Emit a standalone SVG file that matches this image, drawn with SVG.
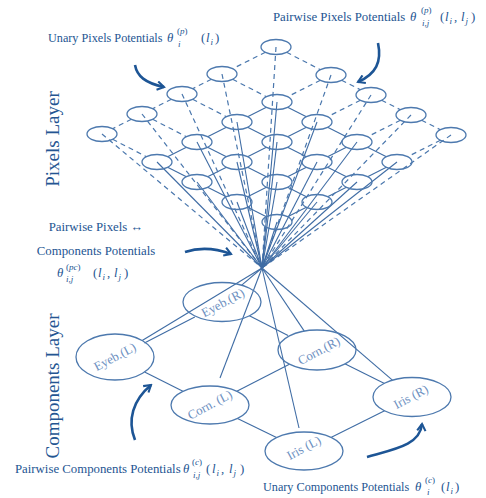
<svg xmlns="http://www.w3.org/2000/svg" width="486" height="498" viewBox="0 0 486 498">
<style>
.px{fill:none;stroke:#4d79ae;stroke-width:1.3}
.cp{fill:none;stroke:#4d79ae;stroke-width:1.3}
.e{stroke:#3f6ca4;stroke-width:1.1;fill:none}
.d{stroke:#4a77ad;stroke-width:1.2;stroke-dasharray:5 4;fill:none}
.ar{stroke:#1d5595;stroke-width:2.6;fill:none;marker-end:url(#ah)}
.t{font-family:"Liberation Serif","DejaVu Serif",serif;fill:#245592;font-size:12.8px}
.u{font-size:12.2px}
.m{font-style:italic}
.s{font-size:9px}
.v{font-size:19px;text-anchor:middle}
.cl{font-family:"Liberation Serif","DejaVu Serif",serif;font-size:12.8px;fill:#6d90bf;text-anchor:middle}
</style>
<defs>
<marker id="ah" viewBox="0 0 10 10" refX="8" refY="5" markerWidth="4" markerHeight="4" orient="auto" markerUnits="strokeWidth">
<path d="M1.5,1 L8,5 L1.5,9" fill="none" stroke="#1d5595" stroke-width="2"/>
</marker>
</defs>
<g id="connectors">
<line class="d" x1="286.6" y1="52.3" x2="320.4" y2="69.7"/>
<line class="d" x1="341.6" y1="80.3" x2="360.4" y2="89.7"/>
<line class="d" x1="381.6" y1="100.3" x2="400.4" y2="109.7"/>
<line class="d" x1="421.6" y1="120.3" x2="440.4" y2="129.7"/>
<line class="d" x1="232.6" y1="79.3" x2="266.4" y2="96.7"/>
<line class="e" x1="287.6" y1="107.3" x2="306.4" y2="116.7"/>
<line class="e" x1="327.6" y1="127.3" x2="346.4" y2="136.7"/>
<line class="e" x1="367.6" y1="147.3" x2="386.4" y2="156.7"/>
<line class="d" x1="192.6" y1="99.3" x2="226.4" y2="116.7"/>
<line class="e" x1="247.6" y1="127.3" x2="266.4" y2="136.7"/>
<line class="e" x1="287.6" y1="147.3" x2="306.4" y2="156.7"/>
<line class="e" x1="327.6" y1="167.3" x2="346.4" y2="176.7"/>
<line class="d" x1="152.6" y1="119.3" x2="186.4" y2="136.7"/>
<line class="e" x1="207.6" y1="147.3" x2="226.4" y2="156.7"/>
<line class="e" x1="247.6" y1="167.3" x2="266.4" y2="176.7"/>
<line class="e" x1="287.6" y1="187.3" x2="306.4" y2="196.7"/>
<line class="d" x1="112.6" y1="139.3" x2="146.4" y2="156.7"/>
<line class="e" x1="167.6" y1="167.3" x2="186.4" y2="176.7"/>
<line class="e" x1="207.6" y1="187.3" x2="226.4" y2="196.7"/>
<line class="e" x1="247.6" y1="207.3" x2="266.4" y2="216.7"/>
<line class="d" x1="265.4" y1="52.3" x2="232.6" y2="68.7"/>
<line class="d" x1="211.4" y1="79.3" x2="192.6" y2="88.7"/>
<line class="d" x1="171.4" y1="99.3" x2="152.6" y2="108.7"/>
<line class="d" x1="131.4" y1="119.3" x2="112.6" y2="128.7"/>
<line class="d" x1="320.4" y1="80.3" x2="287.6" y2="96.7"/>
<line class="e" x1="266.4" y1="107.3" x2="247.6" y2="116.7"/>
<line class="e" x1="226.4" y1="127.3" x2="207.6" y2="136.7"/>
<line class="e" x1="186.4" y1="147.3" x2="167.6" y2="156.7"/>
<line class="d" x1="360.4" y1="100.3" x2="327.6" y2="116.7"/>
<line class="e" x1="306.4" y1="127.3" x2="287.6" y2="136.7"/>
<line class="e" x1="266.4" y1="147.3" x2="247.6" y2="156.7"/>
<line class="e" x1="226.4" y1="167.3" x2="207.6" y2="176.7"/>
<line class="d" x1="400.4" y1="120.3" x2="367.6" y2="136.7"/>
<line class="e" x1="346.4" y1="147.3" x2="327.6" y2="156.7"/>
<line class="e" x1="306.4" y1="167.3" x2="287.6" y2="176.7"/>
<line class="e" x1="266.4" y1="187.3" x2="247.6" y2="196.7"/>
<line class="d" x1="440.4" y1="140.3" x2="407.6" y2="156.7"/>
<line class="e" x1="386.4" y1="167.3" x2="367.6" y2="176.7"/>
<line class="e" x1="346.4" y1="187.3" x2="327.6" y2="196.7"/>
<line class="e" x1="306.4" y1="207.3" x2="287.6" y2="216.7"/>
<line class="d" x1="276" y1="47" x2="262" y2="268"/>
<line class="d" x1="331" y1="75" x2="262" y2="268"/>
<line class="d" x1="371" y1="95" x2="262" y2="268"/>
<line class="d" x1="411" y1="115" x2="262" y2="268"/>
<line class="d" x1="451" y1="135" x2="262" y2="268"/>
<line class="d" x1="222" y1="74" x2="262" y2="268"/>
<line class="d" x1="182" y1="94" x2="262" y2="268"/>
<line class="d" x1="142" y1="114" x2="262" y2="268"/>
<line class="d" x1="102" y1="134" x2="262" y2="268"/>
<line class="e" x1="277" y1="102" x2="262" y2="268"/>
<line class="e" x1="317" y1="122" x2="262" y2="268"/>
<line class="e" x1="357" y1="142" x2="262" y2="268"/>
<line class="e" x1="397" y1="162" x2="262" y2="268"/>
<line class="e" x1="237" y1="122" x2="262" y2="268"/>
<line class="e" x1="277" y1="142" x2="262" y2="268"/>
<line class="e" x1="317" y1="162" x2="262" y2="268"/>
<line class="e" x1="357" y1="182" x2="262" y2="268"/>
<line class="e" x1="197" y1="142" x2="262" y2="268"/>
<line class="e" x1="237" y1="162" x2="262" y2="268"/>
<line class="e" x1="277" y1="182" x2="262" y2="268"/>
<line class="e" x1="317" y1="202" x2="262" y2="268"/>
<line class="e" x1="157" y1="162" x2="262" y2="268"/>
<line class="e" x1="197" y1="182" x2="262" y2="268"/>
<line class="e" x1="237" y1="202" x2="262" y2="268"/>
<line class="e" x1="277" y1="222" x2="262" y2="268"/>
<line class="e" x1="262" y1="268" x2="142.2" y2="340.5"/>
<line class="e" x1="262" y1="268" x2="241.7" y2="285.2"/>
<line class="e" x1="262" y1="268" x2="220" y2="378"/>
<line class="e" x1="262" y1="268" x2="304.3" y2="331.1"/>
<line class="e" x1="262" y1="268" x2="299" y2="428"/>
<line class="e" x1="262" y1="268" x2="392.4" y2="380.1"/>
<line class="e" x1="144.4" y1="343" x2="194.8" y2="317"/>
<line class="e" x1="144.6" y1="372" x2="182.9" y2="391.3"/>
<line class="e" x1="249.4" y1="315.8" x2="288" y2="335.5"/>
<line class="e" x1="236.8" y1="391.2" x2="289.4" y2="364.2"/>
<line class="e" x1="237.5" y1="418.5" x2="276.5" y2="437.5"/>
<line class="e" x1="344.8" y1="363.7" x2="384.5" y2="383.4"/>
<line class="e" x1="331.4" y1="437.3" x2="384.6" y2="410.7"/>
</g>
<g id="pixel-nodes">
<g id="px-0-0"><ellipse class="px" cx="276" cy="47" rx="15" ry="7.5"/></g>
<g id="px-0-1"><ellipse class="px" cx="331" cy="75" rx="15" ry="7.5"/></g>
<g id="px-0-2"><ellipse class="px" cx="371" cy="95" rx="15" ry="7.5"/></g>
<g id="px-0-3"><ellipse class="px" cx="411" cy="115" rx="15" ry="7.5"/></g>
<g id="px-0-4"><ellipse class="px" cx="451" cy="135" rx="15" ry="7.5"/></g>
<g id="px-1-0"><ellipse class="px" cx="222" cy="74" rx="15" ry="7.5"/></g>
<g id="px-2-0"><ellipse class="px" cx="182" cy="94" rx="15" ry="7.5"/></g>
<g id="px-3-0"><ellipse class="px" cx="142" cy="114" rx="15" ry="7.5"/></g>
<g id="px-4-0"><ellipse class="px" cx="102" cy="134" rx="15" ry="7.5"/></g>
<g id="px-1-1"><ellipse class="px" cx="277" cy="102" rx="15" ry="7.5"/></g>
<g id="px-1-2"><ellipse class="px" cx="317" cy="122" rx="15" ry="7.5"/></g>
<g id="px-1-3"><ellipse class="px" cx="357" cy="142" rx="15" ry="7.5"/></g>
<g id="px-1-4"><ellipse class="px" cx="397" cy="162" rx="15" ry="7.5"/></g>
<g id="px-2-1"><ellipse class="px" cx="237" cy="122" rx="15" ry="7.5"/></g>
<g id="px-2-2"><ellipse class="px" cx="277" cy="142" rx="15" ry="7.5"/></g>
<g id="px-2-3"><ellipse class="px" cx="317" cy="162" rx="15" ry="7.5"/></g>
<g id="px-2-4"><ellipse class="px" cx="357" cy="182" rx="15" ry="7.5"/></g>
<g id="px-3-1"><ellipse class="px" cx="197" cy="142" rx="15" ry="7.5"/></g>
<g id="px-3-2"><ellipse class="px" cx="237" cy="162" rx="15" ry="7.5"/></g>
<g id="px-3-3"><ellipse class="px" cx="277" cy="182" rx="15" ry="7.5"/></g>
<g id="px-3-4"><ellipse class="px" cx="317" cy="202" rx="15" ry="7.5"/></g>
<g id="px-4-1"><ellipse class="px" cx="157" cy="162" rx="15" ry="7.5"/></g>
<g id="px-4-2"><ellipse class="px" cx="197" cy="182" rx="15" ry="7.5"/></g>
<g id="px-4-3"><ellipse class="px" cx="237" cy="202" rx="15" ry="7.5"/></g>
<g id="px-4-4"><ellipse class="px" cx="277" cy="222" rx="15" ry="7.5"/></g>
</g>
<g id="component-nodes">
<g id="eyeb-l"><ellipse class="cp" cx="115" cy="357" rx="39" ry="23"/><text class="cl" x="115" y="361" transform="rotate(-28 115 357)">Eyeb.(L)</text></g>
<g id="eyeb-r"><ellipse class="cp" cx="222" cy="302" rx="39" ry="19.5"/><text class="cl" x="223" y="307" transform="rotate(-28 223 303)">Eyeb.(R)</text></g>
<g id="corn-l"><ellipse class="cp" cx="210" cy="405" rx="39" ry="19"/><text class="cl" x="210" y="409" transform="rotate(-28 210 405)">Corn. (L)</text></g>
<g id="corn-r"><ellipse class="cp" cx="317" cy="350" rx="39" ry="20"/><text class="cl" x="319" y="355" transform="rotate(-28 319 351)">Corn.(R)</text></g>
<g id="iris-l"><ellipse class="cp" cx="304" cy="451" rx="39" ry="19"/><text class="cl" x="304" y="452" transform="rotate(-28 304 448)">Iris (L)</text></g>
<g id="iris-r"><ellipse class="cp" cx="412" cy="397" rx="39" ry="19.5"/><text class="cl" x="411" y="401" transform="rotate(-28 411 397)">Iris (R)</text></g>
</g>
<g id="arrows">
<path class="ar" d="M135,65 C137,76 145,83 164,87"/>
<path class="ar" d="M378,43 C382,62 376,74 358,82"/>
<path class="ar" d="M185,252 C200,247 215,248 231,254"/>
<path class="ar" d="M135,440 C127,420 133,400 151,385"/>
<path class="ar" d="M367,457 C395,449 420,445 422,424"/>
</g>
<g id="labels">
<text class="t v" transform="translate(59 139) rotate(-90)">Pixels Layer</text>
<text class="t v" transform="translate(59 386) rotate(-90)">Components Layer</text>

<text class="t u" x="48" y="42">Unary Pixels Potentials</text>
<text class="t"><tspan class="m" x="167" y="42">θ</tspan><tspan class="s" x="177" y="34">(<tspan class="m">p</tspan>)</tspan><tspan class="s m" x="178" y="47">i</tspan><tspan x="201" y="42">(</tspan><tspan class="m" x="206" y="42">l</tspan><tspan class="s m" x="210.5" y="45">i</tspan><tspan x="215" y="42">)</tspan></text>

<text class="t" x="273" y="21">Pairwise Pixels Potentials</text>
<text class="t"><tspan class="m" x="410" y="21">θ</tspan><tspan class="s" x="421" y="13">(<tspan class="m">p</tspan>)</tspan><tspan class="s m" x="422" y="26">i,j</tspan><tspan x="440" y="21">(</tspan><tspan class="m" x="445" y="21">l</tspan><tspan class="s m" x="449.5" y="24">i</tspan><tspan x="454" y="21">,</tspan><tspan class="m" x="461" y="21">l</tspan><tspan class="s m" x="465.5" y="24">j</tspan><tspan x="471" y="21">)</tspan></text>

<text class="t" x="96" y="231" text-anchor="middle">Pairwise Pixels ↔</text>
<text class="t" x="96" y="255" text-anchor="middle">Components Potentials</text>
<text class="t"><tspan class="m" x="57" y="277">θ</tspan><tspan class="s" x="66" y="270">(<tspan class="m">pc</tspan>)</tspan><tspan class="s m" x="66" y="282">i,j</tspan><tspan x="93" y="277">(</tspan><tspan class="m" x="98" y="277">l</tspan><tspan class="s m" x="102.5" y="280">i</tspan><tspan x="107" y="277">,</tspan><tspan class="m" x="114" y="277">l</tspan><tspan class="s m" x="118.5" y="280">j</tspan><tspan x="124" y="277">)</tspan></text>

<text class="t" x="15" y="473">Pairwise Components Potentials</text>
<text class="t"><tspan class="m" x="183" y="473">θ</tspan><tspan class="s" x="192" y="465">(<tspan class="m">c</tspan>)</tspan><tspan class="s m" x="193" y="478">i,j</tspan><tspan x="206" y="473">(</tspan><tspan class="m" x="212" y="473">l</tspan><tspan class="s m" x="216.5" y="476">i</tspan><tspan x="221" y="473">,</tspan><tspan class="m" x="229" y="473">l</tspan><tspan class="s m" x="233.5" y="476">j</tspan><tspan x="240" y="473">)</tspan></text>

<text class="t u" x="263" y="491">Unary Components Potentials</text>
<text class="t"><tspan class="m" x="415" y="491">θ</tspan><tspan class="s" x="425" y="483">(<tspan class="m">c</tspan>)</tspan><tspan class="s m" x="427" y="495">i</tspan><tspan x="441" y="491">(</tspan><tspan class="m" x="446" y="491">l</tspan><tspan class="s m" x="450.5" y="494">i</tspan><tspan x="455" y="491">)</tspan></text>
</g>
</svg>
